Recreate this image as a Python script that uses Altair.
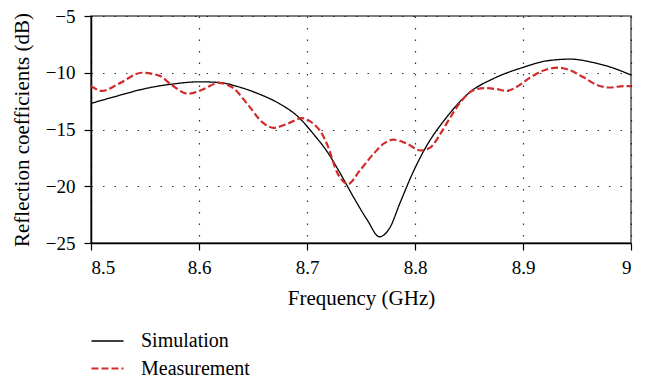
import altair as alt
import pandas as pd

sim_freq = [8.500, 8.526, 8.550, 8.575, 8.600, 8.618, 8.637, 8.655, 8.674, 8.692,
            8.706, 8.719, 8.731, 8.743, 8.756, 8.767, 8.777, 8.786, 8.799, 8.811,
            8.827, 8.851, 8.873, 8.901, 8.922, 8.944, 8.965, 8.984, 9.000]
sim_db = [-12.7, -12.0, -11.4, -11.0, -10.8, -10.85, -11.25, -11.85, -12.7, -13.9,
          -15.4, -17.0, -18.9, -20.95, -23.0, -24.45, -23.6, -21.5, -18.6, -16.4,
          -14.2, -11.7, -10.5, -9.5, -8.95, -8.8, -9.1, -9.6, -10.2]

meas_freq = [8.500, 8.510, 8.526, 8.547, 8.563, 8.575, 8.590, 8.603, 8.618, 8.631,
             8.646, 8.658, 8.669, 8.683, 8.695, 8.706, 8.714, 8.719, 8.728, 8.738,
             8.749, 8.762, 8.771, 8.780, 8.7925, 8.805, 8.814, 8.824, 8.831, 8.842,
             8.854, 8.864, 8.876, 8.885, 8.894, 8.907, 8.919, 8.932, 8.944, 8.956,
             8.969, 8.981, 8.993, 9.000]
meas_db = [-11.15, -11.6, -10.95, -10.0, -10.25, -11.1, -11.85, -11.5, -10.9, -11.3,
           -12.9, -14.3, -14.85, -14.45, -14.0, -14.5, -15.4, -16.4, -18.8, -19.8,
           -18.6, -17.1, -16.25, -15.9, -16.25, -16.85, -16.6, -15.3, -14.2, -12.6,
           -11.55, -11.35, -11.45, -11.6, -11.25, -10.4, -9.8, -9.55, -9.8, -10.4,
           -11.1, -11.3, -11.17, -11.17]

series = ["Simulation", "Measurement"]
colors = ["#000000", "#d22b2b"]
x_ticks = [8.5, 8.6, 8.7, 8.8, 8.9, 9.0]
y_ticks = [-25, -20, -15, -10, -5]

df = pd.concat([
    pd.DataFrame({"freq": sim_freq, "db": sim_db, "series": series[0], "order": range(len(sim_freq))}),
    pd.DataFrame({"freq": meas_freq, "db": meas_db, "series": series[1], "order": range(len(meas_freq))}),
])

FONT = "Liberation Serif"
LFONT = "'Liberation Serif', 'Times New Roman', serif"

chart = alt.Chart(df).mark_line(interpolate="monotone").encode(
    x=alt.X("freq:Q",
            scale=alt.Scale(domain=[8.5, 9.0], nice=False, zero=False),
            axis=alt.Axis(values=x_ticks, format="~g", title="Frequency (GHz)",
                          labelFont=LFONT, labelFontSize=19, labelPadding=8,
                          titleX=270, titleY=61, titleBaseline="alphabetic")),
    y=alt.Y("db:Q",
            scale=alt.Scale(domain=[-25, -5], nice=False, zero=False),
            axis=alt.Axis(values=y_ticks, format="~g", title="Reflection coefficients (dB)",
                          labelFont=LFONT, labelFontSize=19, labelPadding=9,
                          titleX=-63, titleY=113.5, titleAngle=270, titleAlign="center",
                          titleBaseline="alphabetic")),
    color=alt.Color("series:N", scale=alt.Scale(domain=series, range=colors),
                    legend=alt.Legend(title=None, orient="none", legendX=-1, legendY=308,
                                      symbolType="stroke", symbolSize=1024,
                                      symbolStrokeWidth=1.6, labelOffset=16,
                                      labelFont=FONT, labelFontSize=20, labelColor="#000",
                                      rowPadding=0, padding=0)),
    strokeDash=alt.StrokeDash("series:N", scale=alt.Scale(domain=series, range=[[1, 0], [7, 3]]),
                              legend=None),
    strokeWidth=alt.StrokeWidth("series:N", scale=alt.Scale(domain=series, range=[1.3, 2.2]),
                                legend=None),
    order="order:Q",
).properties(
    width=540, height=227,
    autosize=alt.AutoSizeParams(type="none"),
    padding={"left": 91, "top": 16, "right": 16, "bottom": 138},
).configure(
    font=FONT,
    style={"guide-label": {"font": FONT, "fontSize": 19, "fill": "#000"}},
).configure_view(
    stroke="#555555", strokeWidth=1.5
).configure_axis(
    labelFont=LFONT, labelFontSize=19, labelColor="#000",
    titleFont=FONT, titleFontSize=21, titleColor="#000", titleFontWeight="normal",
    domainColor="#000", domainWidth=1.5, tickColor="#000", tickSize=7, tickWidth=1.2,
    grid=True, gridColor="#000", gridDash=[1.5, 10], gridWidth=1.2, gridOpacity=0.8,
)

chart.save("out.html", embed_options={"renderer": "svg", "actions": False})
